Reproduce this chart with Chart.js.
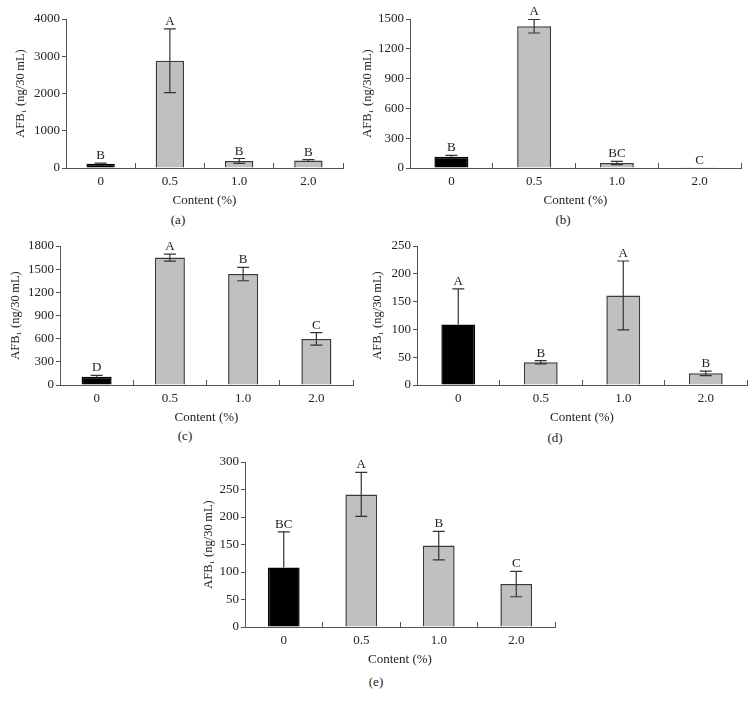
<!DOCTYPE html>
<html lang="en">
<head>
<meta charset="UTF-8" />
<title>AFB1 content</title>
<script src="https://cdn.jsdelivr.net/npm/chart.js@4.4.1/dist/chart.umd.min.js"></script>
<style>
  body { margin: 0; background: #fff; width: 756px; height: 708px; position: relative; overflow: hidden;
         font-family: "Liberation Serif", "Times New Roman", serif; }
  .panel { position: absolute; }
  .tag { position: absolute; font-size: 13px; color: #222; transform: translate(-50%, -50%); }
</style>
</head>
<body>
<div class="panel" style="left:13px;top:3px;width:334px;height:205px"><canvas id="chartA"></canvas></div>
<div class="panel" style="left:360px;top:3px;width:385px;height:205px"><canvas id="chartB"></canvas></div>
<div class="panel" style="left:8px;top:230px;width:349px;height:195px"><canvas id="chartC"></canvas></div>
<div class="panel" style="left:370px;top:230px;width:381px;height:195px"><canvas id="chartD"></canvas></div>
<div class="panel" style="left:201px;top:446px;width:358px;height:221px"><canvas id="chartE"></canvas></div>

<div class="tag" style="left:178px;top:220px">(a)</div>
<div class="tag" style="left:563px;top:220px">(b)</div>
<div class="tag" style="left:185px;top:436px">(c)</div>
<div class="tag" style="left:555px;top:438px">(d)</div>
<div class="tag" style="left:376px;top:682px">(e)</div>

<script>
// categories (additive content, %)
const contents = ['0', '0.5', '1.0', '2.0'];

// panel (a)
const meansA = [115, 2880, 190, 200];
const errA = [15, 855, 65, 25];
const lettersA = ['B', 'A', 'B', 'B'];
// panel (b)
const meansB = [114, 1427, 50, 3];
const errB = [14, 68, 17, 0];
const lettersB = ['B', 'A', 'BC', 'C'];
// panel (c)
const meansC = [108, 1650, 1437, 597];
const errC = [17, 45, 87, 80];
const lettersC = ['D', 'A', 'B', 'C'];
// panel (d)
const meansD = [109, 41, 161, 21];
const errD = [64, 3, 62, 4];
const lettersD = ['A', 'B', 'A', 'B'];
// panel (e)
const meansE = [108, 241, 148, 78];
const errE = [65, 40, 26, 23];
const lettersE = ['BC', 'A', 'B', 'C'];

const serif = '"Liberation Serif", "Times New Roman", serif';
Chart.defaults.font.family = serif;
Chart.defaults.font.size = 13;
Chart.defaults.color = '#222';

const axisColor = '#555';
const barFill = ['#000', '#c0c0c0', '#c0c0c0', '#c0c0c0'];
const barEdge = ['#000', '#3a3a3a', '#3a3a3a', '#3a3a3a'];

// error whiskers + significance letters
const errorBars = {
  id: 'errorBars',
  afterDatasetsDraw(chart, args, opts) {
    const ctx = chart.ctx;
    const x = chart.scales.x, y = chart.scales.y;
    const vals = chart.data.datasets[0].data;
    ctx.save();
    ctx.strokeStyle = '#333';
    ctx.lineWidth = 1.2;
    ctx.fillStyle = '#222';
    ctx.font = '13px ' + serif;
    ctx.textAlign = 'center';
    ctx.textBaseline = 'alphabetic';
    vals.forEach((v, i) => {
      const cx = x.getPixelForValue(i);
      const e = opts.errors[i];
      const top = y.getPixelForValue(v + e);
      // lower whisker is hidden inside the solid black control bar
      const dark = barFill[i] === '#000';
      const bot = y.getPixelForValue(dark ? v : Math.max(v - e, 0));
      if (e > 0) {
        ctx.beginPath();
        ctx.moveTo(cx, top); ctx.lineTo(cx, bot);
        ctx.moveTo(cx - 6, top); ctx.lineTo(cx + 6, top);
        if (!dark) { ctx.moveTo(cx - 6, bot); ctx.lineTo(cx + 6, bot); }
        ctx.stroke();
      }
      ctx.fillText(opts.letters[i], cx, top - 4);
    });
    ctx.restore();
  }
};

function makeChart(id, means, errs, letters, yMax, step, yW, xH) {
  return new Chart(document.getElementById(id), {
    type: 'bar',
    data: {
      labels: contents,
      datasets: [{
        data: means,
        backgroundColor: barFill,
        borderColor: barEdge,
        borderWidth: 1.5,
        barPercentage: 0.41,
        categoryPercentage: 1
      }]
    },
    options: {
      responsive: true,
      maintainAspectRatio: false,
      animation: false,
      layout: { padding: { top: 16, right: 4, left: 0, bottom: 0 } },
      plugins: {
        legend: { display: false },
        tooltip: { enabled: false },
        errorBars: { errors: errs, letters: letters }
      },
      scales: {
        x: {
          grid: { drawOnChartArea: false, offset: true, tickLength: -5, color: axisColor },
          border: { color: axisColor },
          ticks: { padding: 11 },
          title: { display: true, text: 'Content (%)', padding: 0 },
          afterFit(s) { s.height = xH; }
        },
        y: {
          min: 0,
          max: yMax,
          ticks: { stepSize: step, padding: 2, callback: v => String(v) },
          grid: { drawOnChartArea: false, tickLength: 4, color: axisColor },
          border: { color: axisColor },
          title: { display: true, text: 'AFB\u2081 (ng/30\u2009mL)', padding: 0, font: { size: 12.5 } },
          afterFit(s) { s.width = yW; }
        }
      }
    },
    plugins: [errorBars]
  });
}

makeChart('chartA', meansA, errA, lettersA, 4000, 1000, 53, 40);
makeChart('chartB', meansB, errB, lettersB, 1500, 300, 50, 40);
makeChart('chartC', meansC, errC, lettersC, 1800, 300, 52, 40);
makeChart('chartD', meansD, errD, lettersD, 250, 50, 47, 40);
makeChart('chartE', meansE, errE, lettersE, 300, 50, 44, 40);
</script>
</body>
</html>
